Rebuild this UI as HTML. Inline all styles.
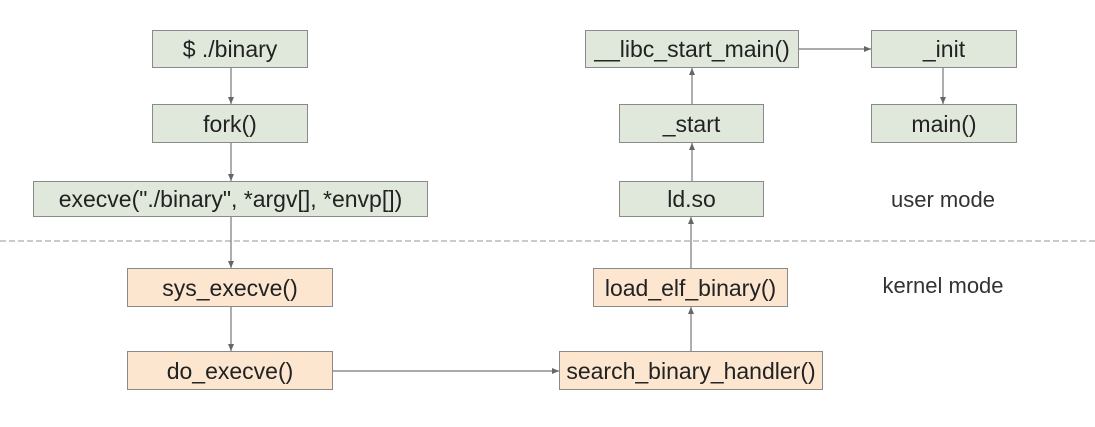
<!DOCTYPE html>
<html><head><style>
body{margin:0;width:1095px;height:427px;background:#fff;position:relative;overflow:hidden;font-family:"Liberation Sans",sans-serif;}
.b{position:absolute;box-sizing:border-box;border:1px solid #8a8a8a;display:flex;align-items:center;justify-content:center;font-size:23px;color:#222;padding-top:1px;}
.g{background:#dfe8db;}
.o{background:#fce6d0;}
.t{position:absolute;font-size:22px;color:#333;transform:translateX(-50%);white-space:nowrap;}
svg{position:absolute;left:0;top:0;}
</style></head><body>
<svg width="1095" height="427">
<defs><marker id="a" markerWidth="8" markerHeight="8" refX="7" refY="4" orient="auto" markerUnits="userSpaceOnUse"><path d="M0,1 L7,4 L0,7z" fill="#666"/></marker></defs>
<line x1="0" y1="241" x2="1095" y2="241" stroke="#aaa" stroke-width="1.2" stroke-dasharray="6,3"/>
<g stroke="#777" stroke-width="1.2" marker-end="url(#a)">
<line x1="231" y1="68" x2="231" y2="104"/>
<line x1="231" y1="143" x2="231" y2="181"/>
<line x1="231" y1="217" x2="231" y2="268"/>
<line x1="231" y1="307" x2="231" y2="351"/>
<line x1="333" y1="371" x2="559" y2="371"/>
<line x1="691" y1="351" x2="691" y2="307"/>
<line x1="691" y1="268" x2="691" y2="217"/>
<line x1="692" y1="181" x2="692" y2="143"/>
<line x1="692" y1="104" x2="692" y2="68"/>
<line x1="799" y1="49" x2="871" y2="49"/>
<line x1="943" y1="68" x2="943" y2="104"/>
</g>
</svg>
<div class="b g" style="left:152px;top:30px;width:156px;height:38px">$ ./binary</div>
<div class="b g" style="left:152px;top:104px;width:156px;height:39px">fork()</div>
<div class="b g" style="left:33px;top:181px;width:395px;height:36px">execve("./binary", *argv[], *envp[])</div>
<div class="b o" style="left:127px;top:268px;width:206px;height:39px">sys_execve()</div>
<div class="b o" style="left:127px;top:351px;width:206px;height:39px">do_execve()</div>
<div class="b g" style="left:585px;top:30px;width:214px;height:38px">__libc_start_main()</div>
<div class="b g" style="left:871px;top:30px;width:146px;height:38px">_init</div>
<div class="b g" style="left:619px;top:104px;width:145px;height:39px">_start</div>
<div class="b g" style="left:871px;top:104px;width:146px;height:39px">main()</div>
<div class="b g" style="left:619px;top:181px;width:145px;height:36px">ld.so</div>
<div class="b o" style="left:593px;top:268px;width:195px;height:39px">load_elf_binary()</div>
<div class="b o" style="left:559px;top:351px;width:264px;height:39px">search_binary_handler()</div>
<div class="t" style="left:943px;top:187px">user mode</div>
<div class="t" style="left:943px;top:273px">kernel mode</div>
</body></html>
